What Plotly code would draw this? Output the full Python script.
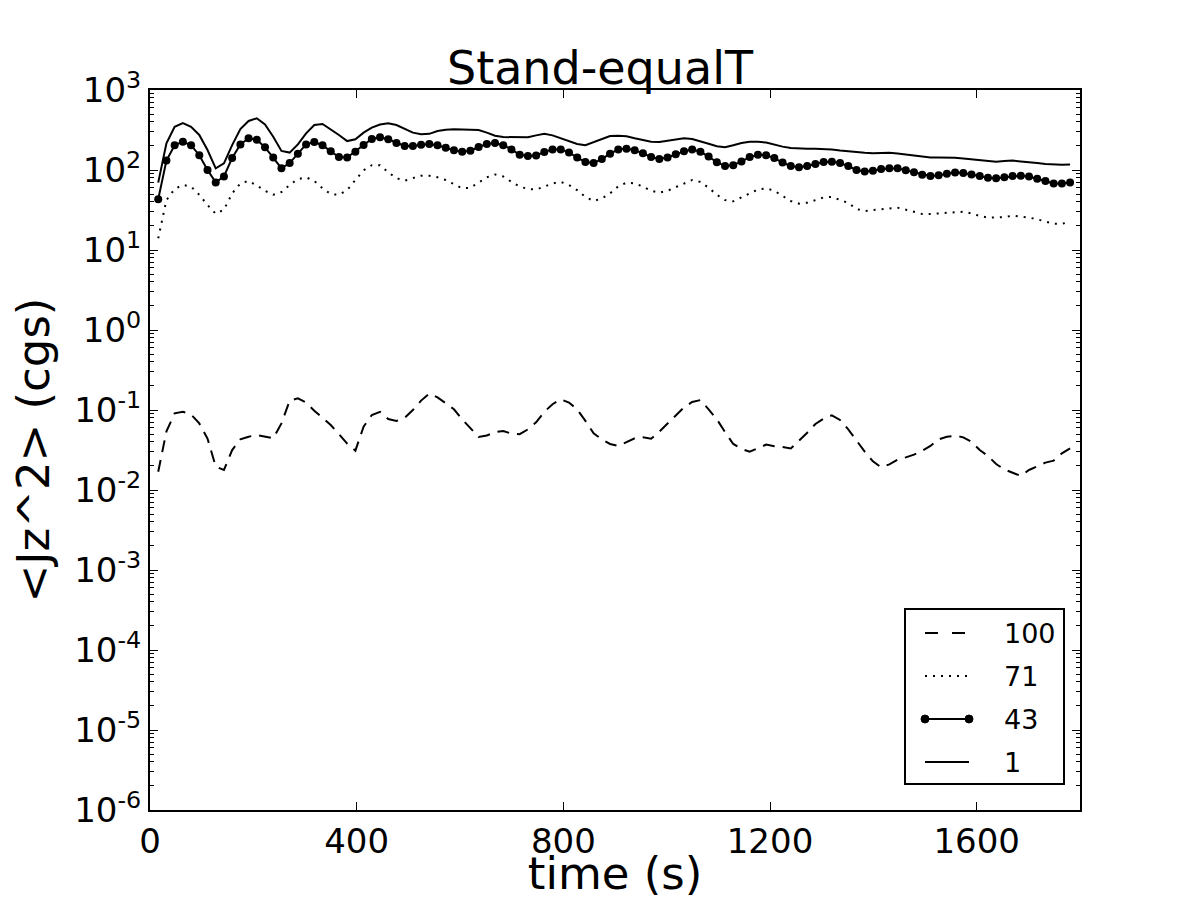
import plotly.graph_objects as go

# time grid (s): sampled every ~15.9 s
time_s = [round(15.9 * i, 1) for i in range(1, 113)]

series_100 = [0.0169, 0.054, 0.091, 0.095, 0.088, 0.068, 0.044, 0.0196, 0.0178, 0.0316,
              0.043, 0.0464, 0.0487, 0.0464, 0.0443, 0.068, 0.131, 0.14, 0.124, 0.098,
              0.0787, 0.065, 0.05, 0.038, 0.031, 0.062, 0.0866, 0.095, 0.077, 0.073,
              0.080, 0.10, 0.131, 0.161, 0.144, 0.12, 0.102, 0.0765, 0.059, 0.046,
              0.048, 0.053, 0.0546, 0.0506, 0.0498, 0.0573, 0.0702, 0.095, 0.118, 0.136,
              0.124, 0.102, 0.073, 0.051, 0.043, 0.0376, 0.0355, 0.040, 0.0443, 0.0455,
              0.0438, 0.0536, 0.068, 0.0866, 0.108, 0.126, 0.133, 0.102, 0.0765, 0.053,
              0.0376, 0.0326, 0.0301, 0.0332, 0.0369, 0.0352, 0.0345, 0.033, 0.041, 0.052,
              0.0668, 0.078, 0.0858, 0.075, 0.0573, 0.0414, 0.0301, 0.0228, 0.0192, 0.0209,
              0.0239, 0.0256, 0.0277, 0.031, 0.0355, 0.043, 0.0464, 0.0477, 0.0455, 0.040,
              0.0316, 0.0266, 0.0211, 0.0181, 0.0165, 0.015, 0.0178, 0.02, 0.022, 0.0233,
              0.0287, 0.0332]

series_71 = [14, 42, 58, 65, 62, 49, 36.5, 28.4, 31.9, 51,
             68, 73, 64, 55, 49, 53, 65, 77, 81, 73,
             59, 50, 49, 56, 75, 99, 115, 115, 93.5, 79,
             73.5, 79, 85, 85, 81, 75, 67, 59, 60, 70,
             81, 88, 83, 71, 62, 58, 57, 62, 68, 71,
             65, 56, 46, 41, 44, 51, 62.5, 69.5, 68, 62,
             55, 52, 55, 61, 68, 75, 71, 60, 49, 42,
             40.6, 45, 51, 57, 59, 55, 48, 41, 38, 39,
             42, 45.5, 46, 42, 38.7, 32.5, 30.7, 31.6, 32.5, 33.2,
             33.8, 31.9, 30.1, 28.2, 28.2, 28.7, 29.6, 30.1, 30.1, 28.7,
             26.6, 25.4, 25.4, 25.8, 26.9, 26.3, 25.4, 24.2, 22.6, 21.3,
             21.3, 22.4]

series_43 = [43, 131, 204, 226, 204, 153, 100, 70, 83, 141,
             209, 249, 239, 192, 143, 105, 122, 160, 209, 224,
             204, 171, 145, 143, 169, 205, 244, 256, 242, 218,
             200, 200, 207, 211, 204, 190, 176, 169, 174, 194,
             211, 218, 204, 181, 155, 150, 152, 168, 181, 181,
             166, 143, 126, 122, 137, 160, 180, 185, 176, 162,
             145, 137, 143, 157, 171, 180, 169, 147, 125, 112,
             115, 128, 145, 155, 153, 141, 124, 112, 108, 112,
             119, 126, 127, 122, 112, 100, 96, 98, 103, 105,
             105, 99, 93.5, 87, 84, 86, 90, 93, 92, 88,
             84, 80, 79, 81, 84, 85, 83, 78, 73, 68,
             68, 70]

series_1 = [69.5, 215, 347, 387, 347, 274, 178, 105, 121, 205,
            325, 410, 443, 372, 261, 173, 165, 209, 287, 365,
            376, 325, 274, 230, 242, 293, 338, 370, 383, 365,
            325, 293, 279, 283, 307, 319, 322, 322, 322, 316,
            293, 268, 258, 256, 256, 256, 271, 283, 271, 249,
            226, 211, 204, 222, 247, 266, 268, 264, 249, 235,
            226, 224, 232, 244, 249, 244, 230, 213, 198, 192,
            204, 218, 226, 226, 220, 207, 196, 188, 185, 185,
            185, 183, 180, 175, 170, 168, 164, 162, 164, 164,
            161, 157, 151, 147, 143, 143, 143, 142, 139, 136,
            132, 128, 127, 130, 131, 128, 126, 122, 119, 117,
            116, 117]

legend_names = ["100", "71", "43", "1"]
x_ticks = [0, 400, 800, 1200, 1600]
y_exponents = [-6, -5, -4, -3, -2, -1, 0, 1, 2, 3]

FONT = "DejaVu Sans"
W, H = 1200, 900
ML, MR, MT, MB = 150, 120, 90, 90
PW, PH = W - ML - MR, H - MT - MB


def px(xp):
    return (xp - ML) / PW


def py(yp):
    return (H - MB - yp) / PH


styles = [
    dict(dash="12px,8px", markers=False),
    dict(dash="2px,6px", markers=False),
    dict(dash="solid", markers=True),
    dict(dash="solid", markers=False),
]
series = [series_100, series_71, series_43, series_1]

fig = go.Figure()
for name, ys, st in zip(legend_names, series, styles):
    fig.add_trace(go.Scatter(
        x=time_s, y=ys, name=name,
        mode="lines+markers" if st["markers"] else "lines",
        line=dict(color="black", width=2, dash=st["dash"]),
        marker=dict(color="black", size=8, symbol="circle"),
        showlegend=False,
    ))

# hand-drawn legend box (matplotlib-like layout)
shapes = [dict(type="rect", xref="paper", yref="paper",
               x0=px(905), x1=px(1064), y0=py(784), y1=py(609),
               line=dict(color="black", width=2), fillcolor="white", layer="above")]
annotations = []
row_y = [633, 676, 719, 762]
lx0, lx1 = 925, 969
for name, st, ry in zip(legend_names, styles, row_y):
    if st["dash"] == "12px,8px":
        shapes.append(dict(type="line", xref="paper", yref="paper",
                           x0=px(lx0), x1=px(lx0 + 13), y0=py(ry), y1=py(ry),
                           line=dict(color="black", width=2), layer="above"))
        shapes.append(dict(type="line", xref="paper", yref="paper",
                           x0=px(lx0 + 27), x1=px(lx0 + 40), y0=py(ry), y1=py(ry),
                           line=dict(color="black", width=2), layer="above"))
    else:
        shapes.append(dict(type="line", xref="paper", yref="paper",
                           x0=px(lx0), x1=px(lx1), y0=py(ry), y1=py(ry),
                           line=dict(color="black", width=2, dash=st["dash"]),
                           layer="above"))
    if st["markers"]:
        for cx in (lx0, lx1):
            shapes.append(dict(type="circle", xref="paper", yref="paper",
                               x0=px(cx - 4), x1=px(cx + 4), y0=py(ry + 4), y1=py(ry - 4),
                               line=dict(color="black", width=1), fillcolor="black",
                               layer="above"))
    annotations.append(dict(text=name, xref="paper", yref="paper",
                            x=px(1002), y=py(ry), xanchor="left", yanchor="middle",
                            showarrow=False, font=dict(size=27, family=FONT, color="black")))

ytext = ["10<sup>%d</sup>" % e for e in y_exponents]
yvals = [10.0 ** e for e in y_exponents]

fig.update_layout(
    width=W, height=H,
    margin=dict(l=ML, r=MR, t=MT, b=MB, autoexpand=False),
    paper_bgcolor="white", plot_bgcolor="white",
    font=dict(family=FONT, color="black", size=34),
    title=dict(text="Stand-equalT", x=0.5, xanchor="center", y=0.925, yanchor="middle",
               font=dict(size=46, family=FONT)),
    showlegend=False,
    shapes=shapes,
    annotations=annotations,
)

fig.update_xaxes(
    range=[0, 1800], tickvals=x_ticks, ticktext=[str(v) for v in x_ticks],
    ticks="inside", ticklen=8, tickwidth=1, tickcolor="black",
    showline=True, linecolor="black", linewidth=2, mirror="allticks",
    showgrid=False, zeroline=False,
    title=dict(text="time (s)", font=dict(size=45, family=FONT), standoff=9),
)
fig.update_yaxes(
    type="log", range=[-6, 3], tickvals=yvals, ticktext=ytext,
    ticks="inside", ticklen=8, tickwidth=1, tickcolor="black",
    minor=dict(ticks="inside", ticklen=4, tickwidth=1, tickcolor="black", dtick="D1",
               showgrid=False),
    showline=True, linecolor="black", linewidth=2, mirror="allticks",
    showgrid=False, zeroline=False,
    title=dict(text="&lt;Jz^2&gt; (cgs)", font=dict(size=45, family=FONT), standoff=10),
)

fig.write_html("out.html")
